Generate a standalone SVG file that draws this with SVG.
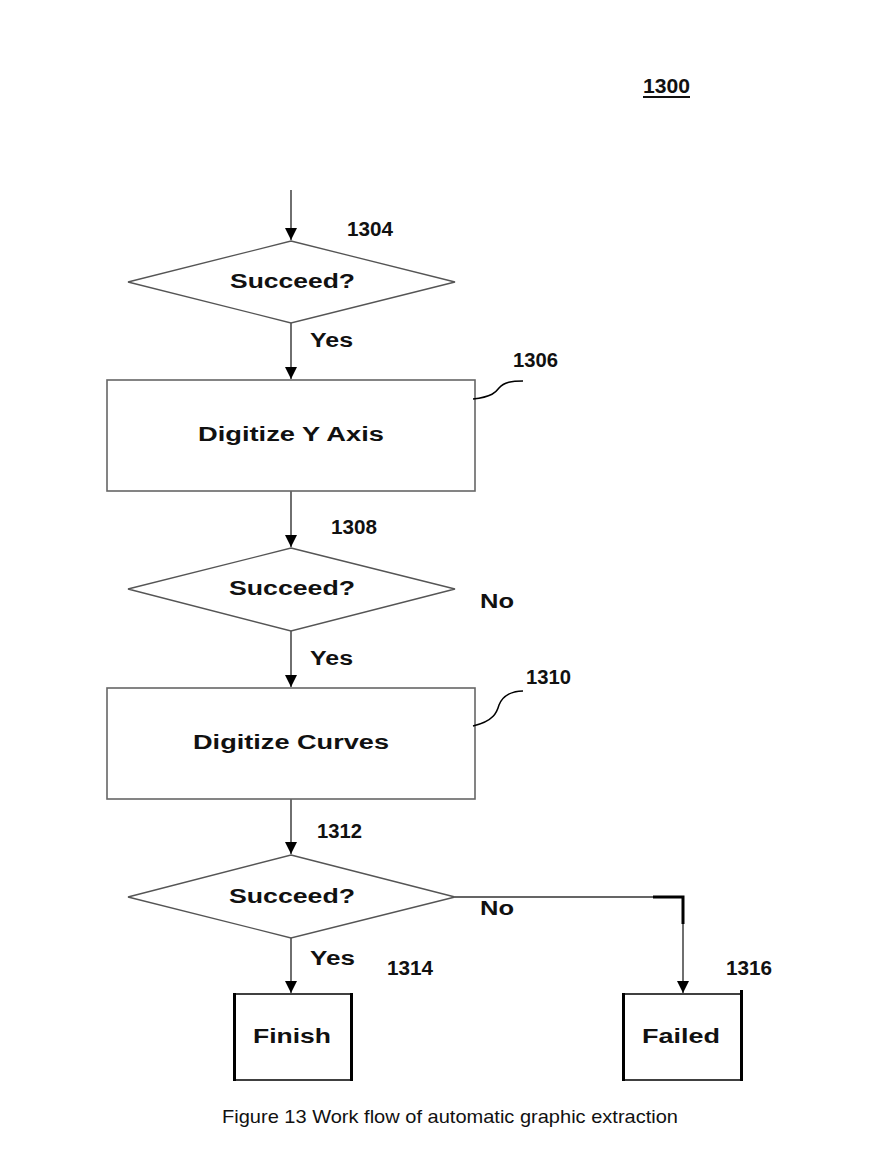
<svg xmlns="http://www.w3.org/2000/svg" width="889" height="1156" viewBox="0 0 889 1156">
<defs>
<marker id="arr" markerUnits="userSpaceOnUse" markerWidth="12" markerHeight="12" refX="10" refY="5" orient="auto" viewBox="0 0 10 10">
<path d="M0,0 L10,5 L0,10 z" fill="#000"/>
</marker>
<style>
.shape{fill:#fff;stroke:#555;stroke-width:1.3}
.box{fill:#fff;stroke:#666;stroke-width:1.6}
.edge{fill:none;stroke:#333;stroke-width:1.4}
.thick{fill:none;stroke:#000;stroke-width:3}
.lead{fill:none;stroke:#000;stroke-width:1.5}
.lbl{font-family:"Liberation Sans",Arial,sans-serif;font-weight:bold;font-size:19.5px;fill:#111}
.num{font-family:"Liberation Sans",Arial,sans-serif;font-weight:bold;font-size:20.5px;fill:#111}
.cap{font-family:"Liberation Sans",Arial,sans-serif;font-size:19px;fill:#111}
</style>
</defs>
<rect width="889" height="1156" fill="#fff"/>

<text class="num" x="643" y="93" textLength="47" lengthAdjust="spacingAndGlyphs">1300</text>
<line x1="643" y1="97" x2="690" y2="97" stroke="#111" stroke-width="2"/>

<g id="connectors">
<line class="edge" x1="291" y1="190" x2="291" y2="240" marker-end="url(#arr)"/>
<line class="edge" x1="291" y1="323" x2="291" y2="379" marker-end="url(#arr)"/>
<line class="edge" x1="291" y1="491" x2="291" y2="547" marker-end="url(#arr)"/>
<line class="edge" x1="291" y1="631" x2="291" y2="687" marker-end="url(#arr)"/>
<line class="edge" x1="291" y1="799" x2="291" y2="854" marker-end="url(#arr)"/>
<line class="edge" x1="291" y1="938" x2="291" y2="993" marker-end="url(#arr)"/>
<polyline class="edge" points="455,897 683,897 683,993" marker-end="url(#arr)"/>
<polyline class="thick" points="653,897 683,897 683,924"/>
<text class="lbl" x="310" y="347" textLength="43" lengthAdjust="spacingAndGlyphs">Yes</text>
<text class="lbl" x="310" y="665" textLength="43" lengthAdjust="spacingAndGlyphs">Yes</text>
<text class="lbl" x="310" y="965" textLength="45" lengthAdjust="spacingAndGlyphs">Yes</text>
<text class="lbl" x="480" y="608" textLength="34" lengthAdjust="spacingAndGlyphs">No</text>
<text class="lbl" x="480" y="915" textLength="34" lengthAdjust="spacingAndGlyphs">No</text>
</g>

<g id="n1304">
<polygon class="shape" points="291,241 455,282 291,323 128,282"/>
<text class="lbl" x="230" y="288" textLength="125" lengthAdjust="spacingAndGlyphs">Succeed?</text>
<text class="num" x="347" y="236" textLength="46" lengthAdjust="spacingAndGlyphs">1304</text>
</g>

<g id="n1306">
<rect class="box" x="107" y="380" width="368" height="111"/>
<text class="lbl" x="198" y="441" textLength="186" lengthAdjust="spacingAndGlyphs">Digitize Y Axis</text>
<path class="lead" d="M473,399 C492,397 496,392 499,388 C504,382 512,381 523,381"/>
<text class="num" x="513" y="367" textLength="45" lengthAdjust="spacingAndGlyphs">1306</text>
</g>

<g id="n1308">
<polygon class="shape" points="291,548 455,589 291,631 128,589"/>
<text class="lbl" x="229" y="595" textLength="126" lengthAdjust="spacingAndGlyphs">Succeed?</text>
<text class="num" x="331" y="534" textLength="46" lengthAdjust="spacingAndGlyphs">1308</text>
</g>

<g id="n1310">
<rect class="box" x="107" y="688" width="368" height="111"/>
<text class="lbl" x="193" y="749" textLength="196" lengthAdjust="spacingAndGlyphs">Digitize Curves</text>
<path class="lead" d="M473,726 C494,721 497,712 499,705 C503,695 513,691 523,691"/>
<text class="num" x="526" y="684" textLength="45" lengthAdjust="spacingAndGlyphs">1310</text>
</g>

<g id="n1312">
<polygon class="shape" points="291,855 455,897 291,938 128,897"/>
<text class="lbl" x="229" y="903" textLength="126" lengthAdjust="spacingAndGlyphs">Succeed?</text>
<text class="num" x="317" y="838" textLength="45" lengthAdjust="spacingAndGlyphs">1312</text>
</g>

<g id="n1314">
<line x1="234" y1="994" x2="352" y2="994" stroke="#000" stroke-width="1.5"/>
<line x1="234" y1="1080" x2="352" y2="1080" stroke="#000" stroke-width="1.5"/>
<line x1="234.5" y1="993" x2="234.5" y2="1081" stroke="#000" stroke-width="3"/>
<line x1="351.5" y1="993" x2="351.5" y2="1081" stroke="#000" stroke-width="3"/>
<text class="lbl" x="253" y="1043" textLength="78" lengthAdjust="spacingAndGlyphs">Finish</text>
<text class="num" x="387" y="975" textLength="46" lengthAdjust="spacingAndGlyphs">1314</text>
</g>

<g id="n1316">
<line x1="623" y1="994" x2="742" y2="994" stroke="#000" stroke-width="1.5"/>
<line x1="623" y1="1080" x2="742" y2="1080" stroke="#000" stroke-width="1.5"/>
<line x1="623.5" y1="993" x2="623.5" y2="1081" stroke="#000" stroke-width="3"/>
<line x1="741.5" y1="990" x2="741.5" y2="1081" stroke="#000" stroke-width="3"/>
<text class="lbl" x="642" y="1043" textLength="78" lengthAdjust="spacingAndGlyphs">Failed</text>
<text class="num" x="726" y="975" textLength="46" lengthAdjust="spacingAndGlyphs">1316</text>
</g>

<text class="cap" x="222" y="1123" textLength="456" lengthAdjust="spacingAndGlyphs">Figure 13 Work flow of automatic graphic extraction</text>
</svg>
